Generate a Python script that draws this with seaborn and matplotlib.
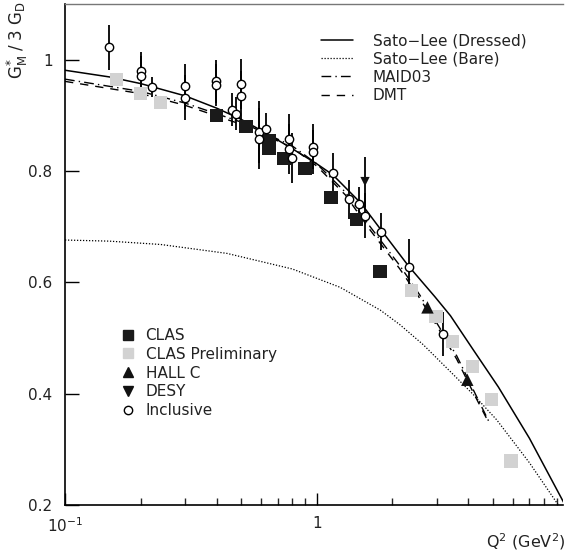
import numpy as np
import pandas as pd
import matplotlib
matplotlib.use("Agg")
import matplotlib.pyplot as plt
from matplotlib.lines import Line2D
from matplotlib.ticker import LogLocator, NullFormatter, FixedLocator, FixedFormatter
import seaborn as sns

# ---------------- data ----------------
# Theory curves
sl_dressed_q2 = [0.1, 0.15, 0.2, 0.3, 0.4, 0.5, 0.63, 0.8, 1.0, 1.16, 1.5, 1.81, 2.31, 2.95, 3.4, 4.2, 5.27, 7.0, 9.7]
sl_dressed_g = [0.981, 0.969, 0.957, 0.935, 0.913, 0.893, 0.868, 0.840, 0.813, 0.793, 0.742, 0.693, 0.630, 0.574, 0.540, 0.478, 0.412, 0.320, 0.2]

sl_bare_q2 = [0.1, 0.15, 0.24, 0.44, 0.8, 1.24, 1.79, 2.14, 2.65, 3.39, 4.2, 5.19, 7.0, 9.12]
sl_bare_g = [0.676, 0.674, 0.668, 0.652, 0.624, 0.591, 0.550, 0.524, 0.488, 0.440, 0.398, 0.353, 0.276, 0.2]

maid_q2 = [0.1, 0.2, 0.3, 0.5, 0.8, 1.0, 1.3, 1.63, 2.14, 2.57, 3.0, 3.6, 4.2, 4.88]
maid_g = [0.965, 0.943, 0.922, 0.888, 0.845, 0.813, 0.762, 0.700, 0.630, 0.577, 0.527, 0.468, 0.406, 0.346]

dmt_q2 = [0.1, 0.2, 0.3, 0.5, 0.8, 1.0, 1.3, 1.63, 2.14, 2.57, 3.0, 3.6, 4.2, 4.8]
dmt_g = [0.961, 0.939, 0.918, 0.884, 0.842, 0.809, 0.757, 0.694, 0.624, 0.571, 0.522, 0.462, 0.401, 0.350]

# Data points
clas_q2 = [0.40, 0.524, 0.646, 0.646, 0.742, 0.899, 1.14, 1.44, 1.785]
clas_g = [0.900, 0.880, 0.855, 0.840, 0.823, 0.804, 0.752, 0.713, 0.619]

clasp_q2 = [0.160, 0.200, 0.240, 2.385, 2.978, 3.47, 4.152, 4.958, 5.915]
clasp_g = [0.964, 0.939, 0.923, 0.585, 0.539, 0.494, 0.449, 0.389, 0.279]

hallc_q2 = [2.755, 3.966]
hallc_g = [0.555, 0.425]

desy_q2 = [1.556]
desy_g = [0.781]
desy_err = [0.045]

incl_q2 = [0.150, 0.2004, 0.2004, 0.2211, 0.2998, 0.2998, 0.398, 0.398, 0.459, 0.478,
           0.499, 0.499, 0.591, 0.591, 0.629, 0.778, 0.778, 0.796, 0.969, 0.969,
           1.164, 1.338, 1.472, 1.556, 1.809, 2.327, 3.177]
incl_g = [1.022, 0.979, 0.971, 0.951, 0.952, 0.932, 0.961, 0.955, 0.910, 0.903,
          0.957, 0.935, 0.870, 0.858, 0.875, 0.858, 0.840, 0.824, 0.844, 0.834,
          0.797, 0.749, 0.741, 0.720, 0.691, 0.628, 0.507]
incl_err = [0.040, 0.035, 0.035, 0.018, 0.040, 0.040, 0.038, 0.038, 0.030, 0.030,
            0.045, 0.045, 0.055, 0.055, 0.030, 0.045, 0.045, 0.045, 0.040, 0.040,
            0.035, 0.035, 0.030, 0.040, 0.033, 0.050, 0.040]

x_ticks = [0.1, 1]
x_tick_labels = [r"$10^{-1}$", "1"]
y_ticks = [0.2, 0.4, 0.6, 0.8, 1.0]
y_tick_labels = ["0.2", "0.4", "0.6", "0.8", "1"]

# ---------------- figure ----------------
sns.set_theme(style="ticks")
plt.rcParams['font.family'] = ['DejaVu Sans']
plt.rcParams['mathtext.fontset'] = 'dejavusans'

W, H = 565, 554
fig = plt.figure(figsize=(W / 100, H / 100), dpi=100)
fig.patch.set_facecolor("white")
ax = fig.add_axes([65 / W, 1 - 505 / H, (563 - 65) / W, (505 - 4) / H])
ax.set_facecolor("white")

ax.set_xscale("log")
ax.set_xlim(0.1, 9.52)
ax.set_ylim(0.2, 1.1)

ink = "black"
# curves
sns.lineplot(x=sl_dressed_q2, y=sl_dressed_g, ax=ax, color=ink, lw=1.1, sort=False, estimator=None, zorder=3)
sns.lineplot(x=sl_bare_q2, y=sl_bare_g, ax=ax, color=ink, lw=0.9, sort=False, estimator=None,
             linestyle=(0, (1, 1.4)), zorder=3)
sns.lineplot(x=maid_q2, y=maid_g, ax=ax, color=ink, lw=1.0, sort=False, estimator=None,
             linestyle=(0, (7, 3, 1, 3)), zorder=3)
sns.lineplot(x=dmt_q2, y=dmt_g, ax=ax, color=ink, lw=1.0, sort=False, estimator=None,
             linestyle=(0, (6, 5)), zorder=3)

# error bars
ax.errorbar(incl_q2, incl_g, yerr=incl_err, fmt="none", ecolor=ink, elinewidth=1.3, capsize=0, zorder=4)
ax.errorbar(desy_q2, desy_g, yerr=desy_err, fmt="none", ecolor=ink, elinewidth=1.3, capsize=0, zorder=4)

# markers
sns.scatterplot(x=clasp_q2, y=clasp_g, ax=ax, marker="s", s=90, color="#d2d2d2", edgecolor="none", zorder=5)
sns.scatterplot(x=clas_q2, y=clas_g, ax=ax, marker="s", s=90, color="#1a1a1a", edgecolor="none", zorder=5)
sns.scatterplot(x=hallc_q2, y=hallc_g, ax=ax, marker="^", s=80, color="#111111", edgecolor="none", zorder=6)
sns.scatterplot(x=desy_q2, y=desy_g, ax=ax, marker="v", s=45, color="#111111", edgecolor="none", zorder=6)
sns.scatterplot(x=incl_q2, y=incl_g, ax=ax, marker="o", s=36, facecolor="white", edgecolor=ink, linewidth=1.0, zorder=7)

# axes styling
ax.spines["right"].set_visible(False)
ax.spines["top"].set_color("#777777")
ax.spines["top"].set_linewidth(1.0)
ax.spines["left"].set_linewidth(1.2)
ax.spines["bottom"].set_linewidth(1.2)
ax.spines["left"].set_color(ink)
ax.spines["bottom"].set_color(ink)

ax.xaxis.set_major_locator(FixedLocator(x_ticks))
ax.xaxis.set_major_formatter(FixedFormatter(x_tick_labels))
ax.xaxis.set_minor_locator(LogLocator(base=10, subs=np.arange(2, 10)))
ax.xaxis.set_minor_formatter(NullFormatter())
ax.yaxis.set_major_locator(FixedLocator(y_ticks))
ax.yaxis.set_major_formatter(FixedFormatter(y_tick_labels))
ax.yaxis.set_minor_locator(FixedLocator([]))

ax.tick_params(axis="x", which="major", direction="in", length=9, width=1.0, bottom=True, top=False,
               labelsize=11, pad=8, colors=ink)
ax.tick_params(axis="x", which="minor", direction="in", length=5, width=1.0, bottom=True, top=False)
ax.tick_params(axis="y", which="major", direction="in", length=10, width=1.0, left=True, right=False,
               labelsize=11, pad=9, colors=ink)
ax.tick_params(labelcolor="#222222")

# axis titles
fig.text(17 / W, 1 - 2 / H, r"$\mathregular{G^{*}_{M}\;/\;3\ G_{D}}$", rotation=90, ha="center", va="top",
         fontsize=12, color="#222222")
fig.text(565 / W, 1 - 542 / H, r"Q$^{2}$ (GeV$^{2}$)", ha="right", va="center", fontsize=11.5, color="#222222")

# legends
fs = 11
h1 = [Line2D([], [], color=ink, lw=1.1),
      Line2D([], [], color=ink, lw=0.9, linestyle=(0, (1, 1.4))),
      Line2D([], [], color=ink, lw=1.0, linestyle=(0, (7, 3, 1, 3))),
      Line2D([], [], color=ink, lw=1.0, linestyle=(0, (6, 5)))]
l1 = ["Sato\u2212Lee (Dressed)", "Sato\u2212Lee (Bare)", "MAID03", "DMT"]
leg1 = fig.legend(h1, l1, loc="upper left", bbox_to_anchor=(321 / W, 1 - 33 / H), frameon=False,
                  fontsize=fs, handlelength=2.1, handletextpad=1.3, labelspacing=0.22,
                  borderpad=0, borderaxespad=0, labelcolor="#222222")

h2 = [Line2D([], [], marker="s", color="#1a1a1a", ls="none", markersize=7),
      Line2D([], [], marker="s", color="#d2d2d2", ls="none", markersize=7),
      Line2D([], [], marker="^", color="#111111", ls="none", markersize=7),
      Line2D([], [], marker="v", color="#111111", ls="none", markersize=7),
      Line2D([], [], marker="o", markerfacecolor="white", markeredgecolor=ink, ls="none", markersize=6)]
l2 = ["CLAS", "CLAS Preliminary", "HALL C", "DESY", "Inclusive"]
leg2 = fig.legend(h2, l2, loc="upper left", bbox_to_anchor=(118 / W, 1 - 328 / H), frameon=False,
                  fontsize=fs, handlelength=1.3, handletextpad=0.5, labelspacing=0.25,
                  borderpad=0, borderaxespad=0, labelcolor="#222222")

fig.savefig("out.png", dpi=100, facecolor="white")
